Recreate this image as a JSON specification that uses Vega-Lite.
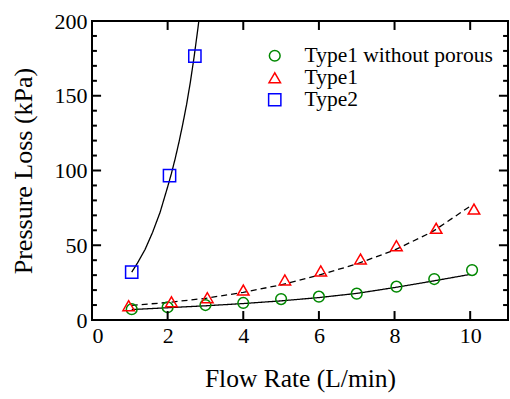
{
  "$schema": "https://vega.github.io/schema/vega-lite/v6.json",
  "autosize": {"type": "none"},
  "padding": {"left": 92, "top": 21, "right": 2, "bottom": 79},
  "width": 416,
  "height": 299,
  "background": "white",
  "config": {
    "view": {"stroke": "black", "strokeWidth": 2},
    "font": "Liberation Serif",
    "axis": {"domain": false, "grid": false, "ticks": false, "labelFont": "Liberation Serif", "labelFontSize": 22, "labelColor": "black", "titleFont": "Liberation Serif", "titleColor": "black", "titleFontWeight": "normal"},
    "legend": {"labelFont": "Liberation Serif", "labelFontSize": 21.5, "labelColor": "black", "labelLimit": 400}
  },
  "datasets": {
    "pts": [
      {"series": "Type1 without porous", "flow": 1.05, "loss": 7.2},
      {"series": "Type1 without porous", "flow": 2.0, "loss": 8.5},
      {"series": "Type1 without porous", "flow": 3.0, "loss": 10.0},
      {"series": "Type1 without porous", "flow": 4.0, "loss": 11.4},
      {"series": "Type1 without porous", "flow": 5.0, "loss": 14.0},
      {"series": "Type1 without porous", "flow": 6.0, "loss": 15.6},
      {"series": "Type1 without porous", "flow": 7.0, "loss": 17.6},
      {"series": "Type1 without porous", "flow": 8.05, "loss": 22.3},
      {"series": "Type1 without porous", "flow": 9.05, "loss": 27.4},
      {"series": "Type1 without porous", "flow": 10.05, "loss": 33.4},
      {"series": "Type1", "flow": 0.97, "loss": 9.6},
      {"series": "Type1", "flow": 2.1, "loss": 12.2},
      {"series": "Type1", "flow": 3.05, "loss": 14.9},
      {"series": "Type1", "flow": 4.0, "loss": 20.0},
      {"series": "Type1", "flow": 5.1, "loss": 26.8},
      {"series": "Type1", "flow": 6.05, "loss": 32.8},
      {"series": "Type1", "flow": 7.1, "loss": 40.8},
      {"series": "Type1", "flow": 8.05, "loss": 49.7},
      {"series": "Type1", "flow": 9.1, "loss": 61.3},
      {"series": "Type1", "flow": 10.1, "loss": 74.2},
      {"series": "Type2", "flow": 1.05, "loss": 32.0},
      {"series": "Type2", "flow": 2.05, "loss": 96.5},
      {"series": "Type2", "flow": 2.72, "loss": 176.5}
    ],
    "fit": [
      {"curve": "c1", "flow": 1.05, "loss": 7.0},
      {"curve": "c1", "flow": 2.0, "loss": 8.2},
      {"curve": "c1", "flow": 3.0, "loss": 9.5},
      {"curve": "c1", "flow": 4.0, "loss": 11.0},
      {"curve": "c1", "flow": 5.0, "loss": 12.8},
      {"curve": "c1", "flow": 6.0, "loss": 15.0},
      {"curve": "c1", "flow": 7.0, "loss": 17.8},
      {"curve": "c1", "flow": 8.0, "loss": 21.7},
      {"curve": "c1", "flow": 9.0, "loss": 26.0},
      {"curve": "c1", "flow": 10.0, "loss": 30.5},
      {"curve": "c2", "flow": 1.05, "loss": 9.8},
      {"curve": "c2", "flow": 2.0, "loss": 11.7},
      {"curve": "c2", "flow": 3.0, "loss": 14.5},
      {"curve": "c2", "flow": 4.0, "loss": 18.5},
      {"curve": "c2", "flow": 5.0, "loss": 23.5},
      {"curve": "c2", "flow": 6.0, "loss": 30.0},
      {"curve": "c2", "flow": 7.0, "loss": 37.5},
      {"curve": "c2", "flow": 8.0, "loss": 46.8},
      {"curve": "c2", "flow": 9.0, "loss": 59.0},
      {"curve": "c2", "flow": 10.05, "loss": 77.0},
      {"curve": "c3", "flow": 1.05, "loss": 32.0},
      {"curve": "c3", "flow": 1.2, "loss": 38.0},
      {"curve": "c3", "flow": 1.4, "loss": 47.0},
      {"curve": "c3", "flow": 1.6, "loss": 58.5},
      {"curve": "c3", "flow": 1.8, "loss": 72.0},
      {"curve": "c3", "flow": 2.0, "loss": 89.0},
      {"curve": "c3", "flow": 2.1, "loss": 98.0},
      {"curve": "c3", "flow": 2.2, "loss": 108.0},
      {"curve": "c3", "flow": 2.3, "loss": 119.0},
      {"curve": "c3", "flow": 2.4, "loss": 131.0},
      {"curve": "c3", "flow": 2.5, "loss": 144.0},
      {"curve": "c3", "flow": 2.6, "loss": 159.0},
      {"curve": "c3", "flow": 2.7, "loss": 176.0},
      {"curve": "c3", "flow": 2.8, "loss": 195.0},
      {"curve": "c3", "flow": 2.83, "loss": 201.0}
    ],
    "ymajor": [{"v": 50}, {"v": 100}, {"v": 150}],
    "yminor": [{"v": 10}, {"v": 20}, {"v": 30}, {"v": 40}, {"v": 60}, {"v": 70}, {"v": 80}, {"v": 90}, {"v": 110}, {"v": 120}, {"v": 130}, {"v": 140}, {"v": 160}, {"v": 170}, {"v": 180}, {"v": 190}],
    "xmajor": [{"v": 2}, {"v": 4}, {"v": 6}, {"v": 8}, {"v": 10}]
  },
  "layer": [
    {
      "data": {"name": "fit"},
      "mark": {"type": "line", "color": "black", "strokeWidth": 1.3, "clip": true},
      "encoding": {
        "x": {"field": "flow", "type": "quantitative", "scale": {"domain": [0, 11], "nice": false}, "axis": {"orient": "bottom", "values": [0, 2, 4, 6, 8, 10], "labelPadding": 5, "title": "Flow Rate (L/min)", "titleFontSize": 25.5, "titlePadding": 20}},
        "y": {"field": "loss", "type": "quantitative", "scale": {"domain": [0, 200], "nice": false}, "axis": {"orient": "left", "values": [0, 50, 100, 150, 200], "labelPadding": 5, "title": "Pressure Loss (kPa)", "titleFontSize": 26, "titlePadding": 18}},
        "detail": {"field": "curve"},
        "strokeDash": {"field": "curve", "type": "nominal", "scale": {"domain": ["c1", "c2", "c3"], "range": [[1, 0], [6, 4], [1, 0]]}, "legend": null}
      }
    },
    {
      "data": {"name": "pts"},
      "mark": {"type": "point", "filled": false, "strokeWidth": 1.5, "opacity": 1},
      "encoding": {
        "x": {"field": "flow", "type": "quantitative"},
        "y": {"field": "loss", "type": "quantitative"},
        "color": {"field": "series", "type": "nominal", "scale": {"domain": ["Type1 without porous", "Type1", "Type2"], "range": ["#008800", "#ff0000", "#0000ff"]}, "legend": {"title": null, "orient": "none", "legendX": 172, "legendY": 24, "symbolStrokeWidth": 1.5, "rowPadding": -1, "labelOffset": 19, "labelLimit": 400, "symbolFillColor": "transparent"}},
        "shape": {"field": "series", "type": "nominal", "scale": {"domain": ["Type1 without porous", "Type1", "Type2"], "range": ["circle", "triangle-up", "square"]}, "legend": {"title": null, "orient": "none", "legendX": 172, "legendY": 24}},
        "size": {"field": "series", "type": "nominal", "scale": {"domain": ["Type1 without porous", "Type1", "Type2"], "range": [115, 150, 95]}, "legend": {"title": null, "orient": "none", "legendX": 172, "legendY": 24}}
      }
    },
    {
      "data": {"name": "ymajor"},
      "mark": {"type": "rule", "color": "black", "strokeWidth": 2},
      "encoding": {"x": {"datum": 0, "type": "quantitative"}, "x2": {"datum": 0.24}, "y": {"field": "v", "type": "quantitative"}}
    },
    {
      "data": {"name": "ymajor"},
      "mark": {"type": "rule", "color": "black", "strokeWidth": 2},
      "encoding": {"x": {"datum": 11, "type": "quantitative"}, "x2": {"datum": 10.76}, "y": {"field": "v", "type": "quantitative"}}
    },
    {
      "data": {"name": "yminor"},
      "mark": {"type": "rule", "color": "black", "strokeWidth": 2},
      "encoding": {"x": {"datum": 0, "type": "quantitative"}, "x2": {"datum": 0.13}, "y": {"field": "v", "type": "quantitative"}}
    },
    {
      "data": {"name": "yminor"},
      "mark": {"type": "rule", "color": "black", "strokeWidth": 2},
      "encoding": {"x": {"datum": 11, "type": "quantitative"}, "x2": {"datum": 10.87}, "y": {"field": "v", "type": "quantitative"}}
    },
    {
      "data": {"name": "xmajor"},
      "mark": {"type": "rule", "color": "black", "strokeWidth": 2},
      "encoding": {"x": {"field": "v", "type": "quantitative"}, "y": {"datum": 0, "type": "quantitative"}, "y2": {"datum": 6}}
    },
    {
      "data": {"name": "xmajor"},
      "mark": {"type": "rule", "color": "black", "strokeWidth": 2},
      "encoding": {"x": {"field": "v", "type": "quantitative"}, "y": {"datum": 200, "type": "quantitative"}, "y2": {"datum": 194}}
    }
  ]
}
